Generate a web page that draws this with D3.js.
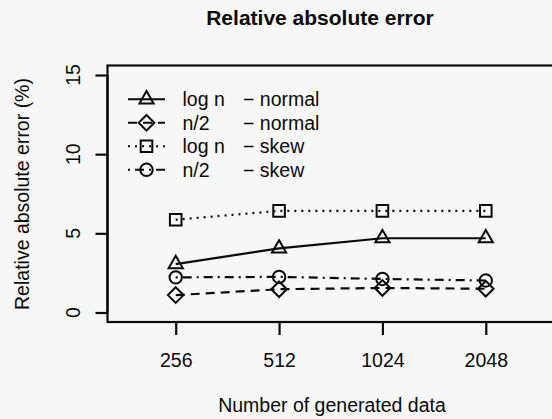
<!DOCTYPE html>
<html>
<head>
<meta charset="utf-8">
<script src="https://cdn.jsdelivr.net/npm/d3@7"></script>
<style>
    body { margin: 0; background: #f7f7f7; }
    svg { display: block; font-family: "Liberation Sans", Arial, sans-serif; }
</style>
</head>
<body>
<svg id="chart" width="552" height="419"></svg>
<script>
////////// DATA //////////

var sizes = ["256", "512", "1024", "2048"];
var y_ticks = [0, 5, 10, 15];

var logn_normal = [3.06, 4.05, 4.69, 4.69];
var half_normal = [1.1, 1.47, 1.55, 1.5];
var logn_skew = [5.86, 6.42, 6.42, 6.42];
var half_skew = [2.22, 2.25, 2.12, 2.02];

var legend_methods = ["log n", "n/2", "log n", "n/2"];
var legend_dists = ["normal", "normal", "skew", "skew"];

////////// END DATA //////////

/**
 * one entry per series: values + how it is drawn
 */
var series = [
    {values: logn_normal, dash: null, shape: "triangle"},
    {values: half_normal, dash: "9,6", shape: "diamond"},
    {values: logn_skew, dash: "2,5", shape: "square"},
    {values: half_skew, dash: "2,5,9,5", shape: "circle"}
];

var ink = "#0a0a0a";
var svg = d3.select("#chart");

// plot region, R style (axis range padded 4% on both sides)
var x = d3.scaleLinear().domain([0.34, 4.66]).range([107.5, 554]);
var y = d3.scaleLinear().domain([-0.6, 15.6]).range([322, 65.5]);

/**
 * path for an open R-like plotting symbol centred on 0,0
 */
function symbol_path(shape) {
    let p = d3.path();
    if (shape === "triangle") {
        let r = 8.2;
        p.moveTo(0, -r);
        p.lineTo(r * 0.866, r * 0.5);
        p.lineTo(-r * 0.866, r * 0.5);
        p.closePath();
    } else if (shape === "diamond") {
        let r = 7.8;
        p.moveTo(0, -r);
        p.lineTo(r, 0);
        p.lineTo(0, r);
        p.lineTo(-r, 0);
        p.closePath();
    } else if (shape === "square") {
        p.rect(-5.8, -5.8, 11.6, 11.6);
    } else {
        p.arc(0, 0, 6.2, 0, 2 * Math.PI);
    }
    return p.toString();
}

// box around the plot (right side runs off the picture)
svg.append("rect")
    .attr("x", x.range()[0])
    .attr("y", y.range()[1])
    .attr("width", x.range()[1] - x.range()[0])
    .attr("height", y.range()[0] - y.range()[1])
    .attr("fill", "none")
    .attr("stroke", ink)
    .attr("stroke-width", 2.2);

// y axis: ticks from d3, labels placed by hand (rotated like R's las=0)
var y_axis = svg.append("g")
    .attr("transform", "translate(" + x.range()[0] + ",0)")
    .call(d3.axisLeft(y).tickValues(y_ticks).tickSize(12).tickFormat(""));
y_axis.select(".domain")
    .attr("d", "M0," + y(0) + "V" + y(15))
    .attr("stroke", ink)
    .attr("stroke-width", 2.2);
y_axis.selectAll(".tick line").attr("stroke", ink).attr("stroke-width", 2.2);

svg.append("g")
    .selectAll("text")
    .data(y_ticks)
    .enter()
    .append("text")
    .attr("transform", function(d) { return "translate(79.5," + y(d) + ") rotate(-90)"; })
    .attr("text-anchor", "middle")
    .attr("font-size", 19.5)
    .attr("fill", ink)
    .text(function(d) { return d; });

// x axis
var x_axis = svg.append("g")
    .attr("transform", "translate(0," + y.range()[0] + ")")
    .call(d3.axisBottom(x).tickValues([1, 2, 3, 4]).tickSize(13).tickFormat(function(d) { return sizes[d - 1]; }));
x_axis.select(".domain")
    .attr("d", "M" + x(1) + ",0H" + x(4))
    .attr("stroke", ink)
    .attr("stroke-width", 2.2);
x_axis.selectAll(".tick line").attr("stroke", ink).attr("stroke-width", 2.2);
x_axis.selectAll(".tick text")
    .attr("y", 44.5).attr("dy", null)
    .attr("font-size", 19.5)
    .attr("fill", ink);

// titles
svg.append("text")
    .attr("x", 320).attr("y", 25)
    .attr("text-anchor", "middle")
    .attr("font-size", 21)
    .attr("font-weight", "bold")
    .attr("fill", ink)
    .text("Relative absolute error");

svg.append("text")
    .attr("x", 332).attr("y", 411.5)
    .attr("text-anchor", "middle")
    .attr("font-size", 19.5)
    .attr("fill", ink)
    .text("Number of generated data");

svg.append("text")
    .attr("transform", "translate(29,194) rotate(-90)")
    .attr("text-anchor", "middle")
    .attr("font-size", 19.5)
    .attr("fill", ink)
    .text("Relative absolute error (%)");

// series lines + markers
var line = d3.line()
    .x(function(d, i) { return x(i + 1); })
    .y(function(d) { return y(d); });

series.forEach(function(s) {
    svg.append("path")
        .attr("d", line(s.values))
        .attr("fill", "none")
        .attr("stroke", ink)
        .attr("stroke-width", 2.2)
        .attr("stroke-dasharray", s.dash);

    svg.append("g")
        .selectAll("path")
        .data(s.values)
        .enter()
        .append("path")
        .attr("transform", function(d, i) { return "translate(" + x(i + 1) + "," + y(d) + ")"; })
        .attr("d", symbol_path(s.shape))
        .attr("fill", "none")
        .attr("stroke", ink)
        .attr("stroke-width", 2);
});

// legend (no frame)
var legend = svg.append("g");
series.forEach(function(s, i) {
    let cy = 99.3 + i * 23.5;
    legend.append("line")
        .attr("x1", 128).attr("x2", 165)
        .attr("y1", cy).attr("y2", cy)
        .attr("stroke", ink)
        .attr("stroke-width", 2)
        .attr("stroke-dasharray", s.dash);
    legend.append("path")
        .attr("transform", "translate(146.5," + cy + ")")
        .attr("d", symbol_path(s.shape))
        .attr("fill", "none")
        .attr("stroke", ink)
        .attr("stroke-width", 2);
    legend.append("text")
        .attr("x", 182.5).attr("y", cy + 6.8)
        .attr("font-size", 19.5)
        .attr("fill", ink)
        .text(legend_methods[i]);
    legend.append("text")
        .attr("x", 243).attr("y", cy + 6.8)
        .attr("font-size", 19.5)
        .attr("fill", ink)
        .text("\u2212 " + legend_dists[i]);
});
</script>
</body>
</html>
